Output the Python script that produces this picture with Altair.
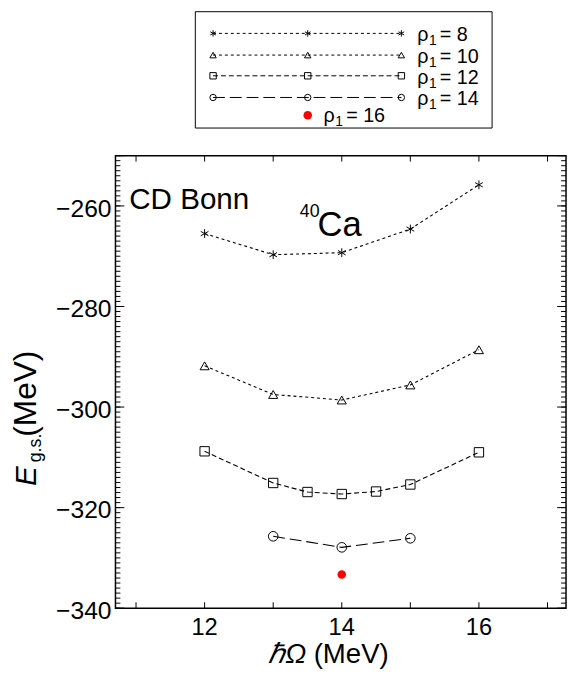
import altair as alt
import pandas as pd

# ---------------- data ----------------
hw8 = [12, 13, 14, 15, 16]
e8 = [-265.5, -269.7, -269.3, -264.6, -255.8]
hw10 = [12, 13, 14, 15, 16]
e10 = [-291.8, -297.5, -298.6, -295.6, -288.6]
hw12 = [12, 13, 13.5, 14, 14.5, 15, 16]
e12 = [-308.8, -315.1, -316.9, -317.3, -316.8, -315.4, -309.0]
hw14 = [13, 14, 15]
e14 = [-325.7, -327.9, -326.1]
hw16 = [14]
e16 = [-333.3]

series_names = ["rho8", "rho10", "rho12", "rho14"]
legend_values = ["8", "10", "12", "14"]
x_tick_labels = [12, 14, 16]
y_tick_labels = [-340, -320, -300, -280, -260]
x_minor = [11, 12, 13, 14, 15, 16, 17]
y_minor = list(range(-340, -249))

# ---------------- styling ----------------
W, H = 457, 459
X_DOM = [10.7, 17.27]
Y_DOM = [-340, -250]
FONT = "Liberation Sans"
STAR = "M0,-1L0,1M-0.87,-0.5L0.87,0.5M-0.87,0.5L0.87,-0.5"
dashes = [[3, 3], [3, 3], [5, 3], [12, 5]]
shapes = [STAR, "triangle-up", "square", "circle"]
sizes = [80, 95, 100, 80]

xs = alt.Scale(domain=X_DOM, nice=False, zero=False)
ys = alt.Scale(domain=Y_DOM, nice=False, zero=False)

rows = []
for name, xv, yv in zip(series_names, [hw8, hw10, hw12, hw14], [e8, e10, e12, e14]):
    for a, b in zip(xv, yv):
        rows.append({"s": name, "x": a, "y": b})
df = pd.DataFrame(rows)
df16 = pd.DataFrame({"x": hw16, "y": e16})

dash_scale = alt.Scale(domain=series_names, range=dashes)
shape_scale = alt.Scale(domain=series_names, range=shapes)

lines = alt.Chart(df).mark_line(color="black", strokeWidth=1.1).encode(
    x=alt.X("x:Q", scale=xs, axis=None),
    y=alt.Y("y:Q", scale=ys, axis=None),
    strokeDash=alt.StrokeDash("s:N", scale=dash_scale, legend=None),
    detail="s:N",
)

points = alt.Chart(df).mark_point(filled=False, color="black", strokeWidth=1, opacity=1).encode(
    x=alt.X("x:Q", scale=xs, axis=None),
    y=alt.Y("y:Q", scale=ys, axis=None),
    shape=alt.Shape("s:N", scale=shape_scale, legend=None),
    size=alt.Size("s:O", scale=alt.Scale(domain=series_names, range=sizes), legend=None),
)

red = alt.Chart(df16).mark_circle(color="red", size=75, opacity=1).encode(
    x=alt.X("x:Q", scale=xs, axis=None),
    y=alt.Y("y:Q", scale=ys, axis=None),
)

# ---------------- tick labels (drawn through the scales) ----------------
ylab_df = pd.DataFrame({"v": y_tick_labels, "t": [str(v).replace("-", "\u2212") for v in y_tick_labels]})
xlab_df = pd.DataFrame({"v": x_tick_labels, "t": [str(v) for v in x_tick_labels]})
ylabels = alt.Chart(ylab_df).mark_text(font=FONT, fontSize=25, align="right", baseline="middle",
                                       color="black", dy=3).encode(
    y=alt.Y("v:Q", scale=ys, axis=None), x=alt.value(-4), text="t:N")
xlabels = alt.Chart(xlab_df).mark_text(font=FONT, fontSize=24, align="center", baseline="alphabetic",
                                       color="black").encode(
    x=alt.X("v:Q", scale=xs, axis=None), y=alt.value(H + 27), text="t:N")

# ---------------- inward ticks ----------------
ymin_df = pd.DataFrame({"v": y_minor})
ymaj_df = pd.DataFrame({"v": y_tick_labels + [-250]})
xmin_df = pd.DataFrame({"v": x_minor})

def yticks(d, length):
    l = alt.Chart(d).mark_rule(color="black", strokeWidth=1).encode(
        y=alt.Y("v:Q", scale=ys, axis=None), x=alt.value(0), x2=alt.value(length))
    r = alt.Chart(d).mark_rule(color="black", strokeWidth=1).encode(
        y=alt.Y("v:Q", scale=ys, axis=None), x=alt.value(W), x2=alt.value(W - length))
    return [l, r]

xt_b = alt.Chart(xmin_df).mark_rule(color="black", strokeWidth=1).encode(
    x=alt.X("v:Q", scale=xs, axis=None), y=alt.value(H), y2=alt.value(H - 6))
xt_t = alt.Chart(xmin_df).mark_rule(color="black", strokeWidth=1).encode(
    x=alt.X("v:Q", scale=xs, axis=None), y=alt.value(0), y2=alt.value(6))

# ---------------- legend box ----------------
box = alt.Chart(pd.DataFrame({"a": [0]})).mark_rect(fill="white", stroke="black", strokeWidth=1).encode(
    x=alt.value(81), x2=alt.value(382), y=alt.value(-146), y2=alt.value(-28))

row_y = [-124, -102, -81, -59]
mk_x = [99, 195, 290]
leg_lines = pd.DataFrame({"s": series_names, "x1": [mk_x[0]] * 4, "x2": [mk_x[2]] * 4, "py": row_y})
leg_pts = pd.DataFrame([{"s": s, "px": px, "py": py} for s, py in zip(series_names, row_y) for px in mk_x])

leg_rule = alt.Chart(leg_lines).mark_rule(color="black", strokeWidth=1).encode(
    x=alt.X("x1:Q", scale=None, axis=None), x2="x2:Q",
    y=alt.Y("py:Q", scale=None, axis=None),
    strokeDash=alt.StrokeDash("s:N", scale=dash_scale, legend=None))
leg_mark = alt.Chart(leg_pts).mark_point(filled=False, color="black", strokeWidth=1, opacity=1, size=42).encode(
    x=alt.X("px:Q", scale=None, axis=None), y=alt.Y("py:Q", scale=None, axis=None),
    shape=alt.Shape("s:N", scale=shape_scale, legend=None))

leg_txt_df = pd.DataFrame({"v": ["= " + v for v in legend_values], "py": [y + 8 for y in row_y]})
leg_rho = alt.Chart(leg_txt_df).mark_text(font=FONT, fontSize=20, align="left", baseline="alphabetic", color="black").encode(
    x=alt.value(306), y=alt.Y("py:Q", scale=None, axis=None), text=alt.value("ρ"))
leg_sub = alt.Chart(leg_txt_df).mark_text(font=FONT, fontSize=14, align="left", baseline="alphabetic", color="black", dy=4).encode(
    x=alt.value(318), y=alt.Y("py:Q", scale=None, axis=None), text=alt.value("1"))
leg_val = alt.Chart(leg_txt_df).mark_text(font=FONT, fontSize=20, align="left", baseline="alphabetic", color="black").encode(
    x=alt.value(329), y=alt.Y("py:Q", scale=None, axis=None), text="v:N")

leg_red = alt.Chart(pd.DataFrame({"a": [0]})).mark_circle(color="red", size=75, opacity=1).encode(
    x=alt.value(195), y=alt.value(-41))

def txt(t, x, y, size, **kw):
    return alt.Chart(pd.DataFrame({"t": [t]})).mark_text(font=FONT, fontSize=size, color="black",
                                                         align=kw.pop("align", "left"),
                                                         baseline=kw.pop("baseline", "alphabetic"), **kw).encode(
        x=alt.value(x), y=alt.value(y), text="t:N")

leg5 = [txt("ρ", 211, -34, 20), txt("1", 223, -30, 14), txt("= 16", 234, -34, 20)]

# ---------------- annotations ----------------
ann = [
    txt("CD Bonn", 14, 54, 30),
    txt("40", 187, 62, 18),
    txt("Ca", 205, 82, 35),
    # x title
    txt("ℏΩ", 155, 515, 28, fontStyle="italic"),
    txt("(MeV)", 201, 515, 28),
    # y title (rotated)
    txt("E", -81, 335, 30, angle=270, fontStyle="italic"),
    txt("g.s.", -76, 311, 18, angle=270),
    txt("(MeV)", -81, 285, 32, angle=270),
]

layers = [box, leg_rule, leg_mark, leg_rho, leg_sub, leg_val, leg_red] + leg5 + \
    yticks(ymin_df, 5) + yticks(ymaj_df, 9) + [xt_b, xt_t, lines, points, red, ylabels, xlabels] + ann

chart = alt.layer(*layers).properties(
    width=W, height=H,
    autosize=alt.AutoSizeParams(type="none"),
    padding={"left": 109, "top": 145, "right": 2, "bottom": 62},
).configure_view(stroke="black", strokeWidth=1.5)

chart.save("out.html", embed_options={"renderer": "svg", "actions": False})
